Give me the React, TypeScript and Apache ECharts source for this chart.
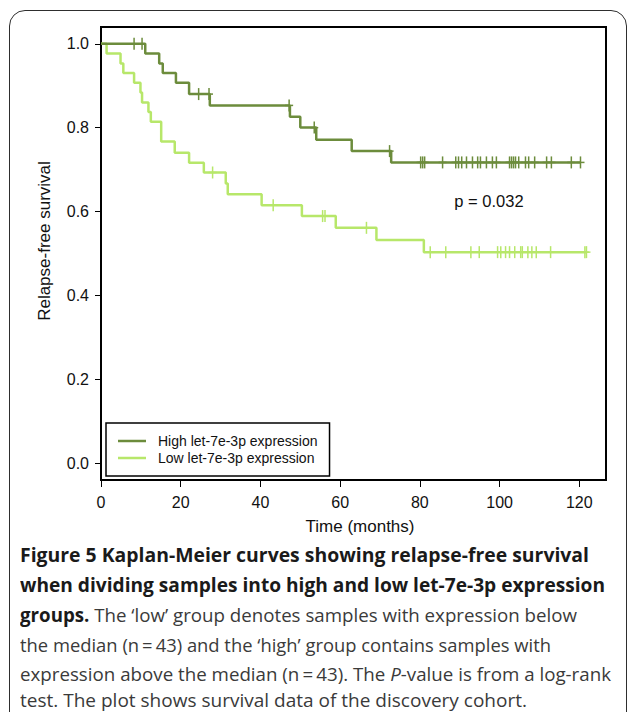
import React, { useEffect, useLayoutEffect, useRef } from "react";
import * as echarts from "echarts";

// ---- data ----
const highName = "High let-7e-3p expression";
const lowName = "Low let-7e-3p expression";

const highEventTimes = [11.1, 14.6, 15.5, 18.8, 22.1, 27.3, 47.4, 50.0, 54.0, 62.9, 72.8];
const highSurvival = [0.977, 0.953, 0.93, 0.907, 0.88, 0.853, 0.826, 0.8, 0.771, 0.744, 0.717];
const highCensorTimes = [
  8.3, 10.3, 24.5, 27.1, 47.2, 53.5, 72.4, 80.2, 80.7, 81.2, 85.7, 89.0, 89.7, 90.5, 91.7, 93.2,
  94.5, 95.2, 96.7, 98.2, 99.2, 102.5, 103.0, 103.5, 104.0, 104.8, 106.5, 107.3, 108.8, 111.8,
  113.0, 118.0, 120.3,
];

const lowEventTimes = [
  1.4, 4.9, 5.6, 8.3, 9.9, 10.3, 11.9, 12.5, 15.1, 18.5, 22.1, 25.8, 31.3, 31.8, 40.3, 50.4, 58.9,
  69.1, 81.0,
];
const lowSurvival = [
  0.977, 0.953, 0.93, 0.907, 0.884, 0.86, 0.837, 0.814, 0.767, 0.74, 0.716, 0.693, 0.667, 0.641,
  0.615, 0.589, 0.561, 0.532, 0.503,
];
const lowCensorTimes = [
  28.0, 43.2, 55.6, 56.2, 66.6, 82.6, 86.5, 92.8, 94.9, 99.5, 100.3, 101.5, 102.5, 103.8, 105.3,
  105.7, 107.1, 108.1, 109.2, 112.8, 121.4, 121.8,
];

const xTickValues = [0, 20, 40, 60, 80, 100, 120];
const yTickValues = [0, 0.2, 0.4, 0.6, 0.8, 1.0];

const pValueText = "p = 0.032";
const xTitle = "Time (months)";
const yTitle = "Relapse-free survival";

const captionLines: { text: string; bold?: boolean; italic?: boolean }[][] = [
  [{ text: "Figure 5 Kaplan-Meier curves showing relapse-free survival", bold: true }],
  [{ text: "when dividing samples into high and low let-7e-3p expression", bold: true }],
  [
    { text: "groups.", bold: true },
    { text: " The \u2018low\u2019 group denotes samples with expression below" },
  ],
  [{ text: "the median (n\u2009=\u200943) and the \u2018high\u2019 group contains samples with" }],
  [
    { text: "expression above the median (n\u2009=\u200943). The " },
    { text: "P", italic: true },
    { text: "-value is from a log-rank" },
  ],
  [{ text: "test. The plot shows survival data of the discovery cohort." }],
];
const captionWidths = [569, 585, 557, 531, 591, 507];
const captionCenters = [555, 585, 615, 645, 674, 700];

// ---- helpers ----
function stepData(times: number[], surv: number[], endTime: number) {
  const pts: number[][] = [[0, 1]];
  times.forEach((t, i) => pts.push([t, surv[i]]));
  pts.push([endTime, surv[surv.length - 1]]);
  return pts;
}
function survivalAt(times: number[], surv: number[], t: number) {
  let s = 1;
  times.forEach((et, i) => {
    if (et <= t) s = surv[i];
  });
  return s;
}
function censorData(times: number[], surv: number[], cens: number[]) {
  return cens.map((t) => [t, survivalAt(times, surv, t)]);
}

const HIGH_COLOR = "#6c8c3c";
const LOW_COLOR = "#b7e76a";
const FONT = "'Liberation Sans', Arial, Helvetica, sans-serif";

function censorRenderer(color: string) {
  return (params: any, api: any) => {
    const p = api.coord([api.value(0), api.value(1)]);
    return {
      type: "group",
      children: [
        {
          type: "line",
          shape: { x1: p[0], y1: p[1] - 6, x2: p[0], y2: p[1] + 6 },
          style: { stroke: color, lineWidth: 1.5 },
        },
        {
          type: "line",
          shape: { x1: p[0] - 4, y1: p[1], x2: p[0] + 4, y2: p[1] },
          style: { stroke: color, lineWidth: 1.5 },
        },
      ],
    };
  };
}

export default function App() {
  const chartRef = useRef<HTMLDivElement | null>(null);
  const lineRefs = useRef<(HTMLSpanElement | null)[]>([]);

  useLayoutEffect(() => {
    const fit = () => {
      lineRefs.current.forEach((el, i) => {
        if (!el) return;
        el.style.transform = "none";
        const w = el.getBoundingClientRect().width;
        if (w > 0) el.style.transform = `scaleX(${captionWidths[i] / w})`;
      });
    };
    fit();
    if ((document as any).fonts && (document as any).fonts.ready) {
      (document as any).fonts.ready.then(fit);
    }
  }, []);

  useEffect(() => {
    if (!chartRef.current) return;
    const chart = echarts.init(chartRef.current, undefined, { renderer: "svg" });
    const highEnd = highCensorTimes[highCensorTimes.length - 1];
    const lowEnd = lowCensorTimes[lowCensorTimes.length - 1];

    chart.setOption({
      animation: false,
      backgroundColor: "transparent",
      grid: {
        show: true,
        left: 101,
        top: 27,
        width: 505,
        height: 453,
        borderColor: "#000",
        borderWidth: 2,
        backgroundColor: "transparent",
        containLabel: false,
        outerBoundsMode: "none",
      },
      xAxis: {
        type: "value",
        min: 0,
        max: 126.7,
        position: "bottom",
        axisLine: { show: false, onZero: false },
        splitLine: { show: false },
        axisTick: {
          show: true,
          length: 7,
          lineStyle: { color: "#000", width: 1 },
          customValues: xTickValues,
        },
        axisLabel: {
          customValues: xTickValues,
          margin: 14,
          fontSize: 16,
          fontFamily: FONT,
          color: "#111",
          formatter: (v: number) => String(Math.round(v)),
        },
      },
      yAxis: {
        type: "value",
        min: -0.0405,
        max: 1.04,
        position: "left",
        axisLine: { show: false, onZero: false },
        splitLine: { show: false },
        axisTick: {
          show: true,
          length: 6,
          lineStyle: { color: "#000", width: 1 },
          customValues: yTickValues,
        },
        axisLabel: {
          customValues: yTickValues,
          margin: 12,
          fontSize: 16,
          fontFamily: FONT,
          color: "#111",
          formatter: (v: number) => v.toFixed(1),
        },
      },
      legend: {
        show: true,
        orient: "vertical",
        left: 106,
        top: 423,
        data: [
          { name: highName, icon: "rect" },
          { name: lowName, icon: "rect" },
        ],
        itemWidth: 28,
        itemHeight: 2.5,
        itemGap: 3,
        padding: [11, 12, 11, 12],
        borderColor: "#000",
        borderWidth: 1.5,
        backgroundColor: "#fff",
        selectedMode: false,
        textStyle: {
          fontSize: 14,
          lineHeight: 14,
          fontFamily: FONT,
          color: "#111",
          padding: [0, 0, 0, 7],
        },
      },
      series: [
        {
          name: lowName,
          type: "line",
          step: "end",
          showSymbol: false,
          symbol: "none",
          data: stepData(lowEventTimes, lowSurvival, lowEnd),
          lineStyle: { color: LOW_COLOR, width: 2.5 },
          itemStyle: { color: LOW_COLOR },
          z: 2,
        },
        {
          name: "low-censor",
          type: "custom",
          renderItem: censorRenderer(LOW_COLOR),
          data: censorData(lowEventTimes, lowSurvival, lowCensorTimes),
          encode: { x: 0, y: 1 },
          z: 3,
        },
        {
          name: highName,
          type: "line",
          step: "end",
          showSymbol: false,
          symbol: "none",
          data: stepData(highEventTimes, highSurvival, highEnd),
          lineStyle: { color: HIGH_COLOR, width: 2.5 },
          itemStyle: { color: HIGH_COLOR },
          z: 4,
        },
        {
          name: "high-censor",
          type: "custom",
          renderItem: censorRenderer(HIGH_COLOR),
          data: censorData(highEventTimes, highSurvival, highCensorTimes),
          encode: { x: 0, y: 1 },
          z: 5,
        },
      ],
      graphic: [
        {
          type: "text",
          x: 44,
          y: 241,
          rotation: Math.PI / 2,
          style: {
            text: yTitle,
            fontSize: 17,
            fontFamily: FONT,
            fill: "#111",
            align: "center",
            verticalAlign: "middle",
          },
        },
        {
          type: "text",
          x: 360,
          y: 526,
          style: {
            text: xTitle,
            fontSize: 17,
            fontFamily: FONT,
            fill: "#111",
            align: "center",
            verticalAlign: "middle",
          },
        },
        {
          type: "text",
          x: 489,
          y: 201,
          style: {
            text: pValueText,
            fontSize: 16.5,
            fontFamily: FONT,
            fill: "#111",
            align: "center",
            verticalAlign: "middle",
          },
        },
      ],
    });
    return () => chart.dispose();
  }, []);

  return (
    <div
      style={{
        position: "absolute",
        left: 0,
        top: 0,
        width: 627,
        height: 712,
        background: "#fff",
        overflow: "hidden",
      }}
    >
      <div
        style={{
          position: "absolute",
          left: 9,
          top: 10,
          width: 618,
          height: 760,
          boxSizing: "border-box",
          border: "1.6px solid #2e2e2e",
          borderRadius: 16,
        }}
      />
      <div
        ref={chartRef}
        style={{ position: "absolute", left: 0, top: 0, width: 627, height: 712 }}
      />
      {captionLines.map((parts, i) => (
        <div
          key={i}
          style={{
            position: "absolute",
            left: 20,
            top: captionCenters[i] - 11,
            height: 22,
            lineHeight: "22px",
            whiteSpace: "nowrap",
            fontFamily: "'Open Sans', 'Noto Sans', sans-serif",
            fontSize: 19,
            color: "#3a3a3a",
          }}
        >
          <span
            ref={(el) => {
              lineRefs.current[i] = el;
            }}
            style={{ display: "inline-block", transformOrigin: "0 50%" }}
          >
            {parts.map((p, j) => (
              <span
                key={j}
                style={{
                  fontWeight: p.bold ? 700 : 400,
                  fontStyle: p.italic ? "italic" : "normal",
                  color: p.bold ? "#1a1a1a" : "#3a3a3a",
                }}
              >
                {p.text}
              </span>
            ))}
          </span>
        </div>
      ))}
    </div>
  );
}
